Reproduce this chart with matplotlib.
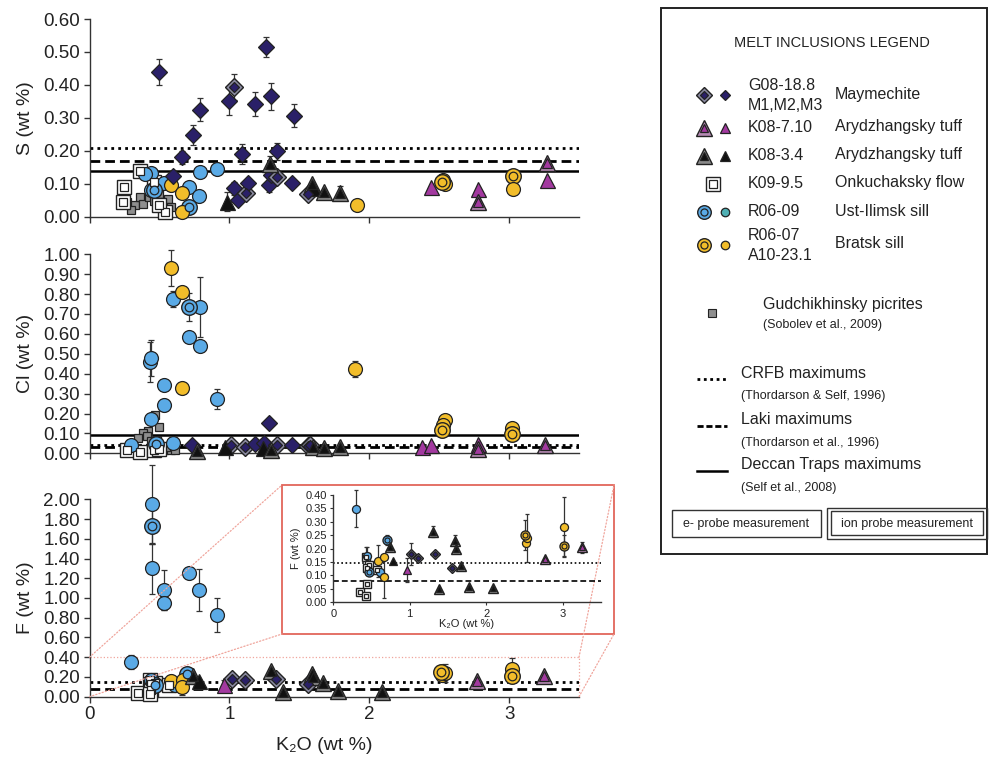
import matplotlib
matplotlib.use("Agg")
import matplotlib.pyplot as plt
from matplotlib.patches import Rectangle, ConnectionPatch
from matplotlib.ticker import FormatStrFormatter, MultipleLocator

plt.rcParams['font.family'] = ['Liberation Sans', 'DejaVu Sans']

# ---------------------------------------------------------------------------
# Melt-inclusion data: (K2O wt%, value wt%, 1-sigma error, ion-probe flag)
# ---------------------------------------------------------------------------
may_S = [(0.50, 0.44, 0.04, 0), (0.60, 0.124, 0, 0), (0.66, 0.18, 0.02, 0),
         (0.74, 0.248, 0.03, 0), (0.79, 0.324, 0.035, 0), (1.00, 0.35, 0.04, 0),
         (1.03, 0.393, 0.04, 1), (1.03, 0.086, 0.02, 0), (1.06, 0.05, 0, 0),
         (1.09, 0.19, 0.03, 0), (1.12, 0.073, 0, 1), (1.13, 0.103, 0, 0),
         (1.185, 0.342, 0.036, 0), (1.26, 0.514, 0.03, 0), (1.28, 0.096, 0.02, 0),
         (1.30, 0.365, 0.04, 0), (1.30, 0.127, 0, 0), (1.34, 0.122, 0, 1),
         (1.34, 0.198, 0.025, 0), (1.45, 0.103, 0, 0), (1.46, 0.306, 0.035, 0),
         (1.56, 0.069, 0, 1)]
may_Cl = [(0.73, 0.04, 0, 0), (1.015, 0.04, 0, 1), (1.11, 0.034, 0, 1),
          (1.18, 0.047, 0, 0), (1.25, 0.05, 0, 0), (1.285, 0.154, 0, 0),
          (1.34, 0.042, 0, 1), (1.45, 0.042, 0, 0), (1.56, 0.035, 0, 1),
          (1.58, 0.04, 0, 1)]
may_F = [(1.02, 0.18, 0.04, 1), (1.11, 0.166, 0, 1), (1.33, 0.18, 0, 1),
         (1.56, 0.127, 0, 1)]

mag_S = [(2.44, 0.091, 0, 0), (2.78, 0.083, 0, 0), (2.78, 0.046, 0, 1),
         (3.27, 0.162, 0, 1), (3.27, 0.112, 0, 0)]
mag_Cl = [(2.38, 0.03, 0, 0), (2.44, 0.042, 0, 0), (2.78, 0.045, 0, 0),
          (2.78, 0.02, 0, 1), (3.26, 0.042, 0, 1)]
mag_F = [(0.96, 0.12, 0.045, 0), (2.77, 0.16, 0, 1), (3.25, 0.205, 0.02, 1)]

blk_S = [(0.98, 0.046, 0.03, 0), (1.29, 0.16, 0.025, 1), (1.59, 0.10, 0, 1),
         (1.60, 0.088, 0, 0), (1.68, 0.076, 0, 1), (1.79, 0.073, 0.02, 1)]
blk_Cl = [(0.77, 0.01, 0, 1), (0.97, 0.034, 0, 0), (1.24, 0.025, 0, 0),
          (1.30, 0.017, 0, 1), (1.60, 0.03, 0, 1), (1.68, 0.025, 0, 1),
          (1.79, 0.03, 0, 1)]
blk_F = [(0.74, 0.207, 0, 1), (0.78, 0.155, 0, 0), (1.30, 0.263, 0.02, 1),
         (1.38, 0.05, 0, 1), (1.59, 0.23, 0.02, 1), (1.60, 0.20, 0, 1),
         (1.67, 0.135, 0, 1), (1.78, 0.058, 0, 1), (2.09, 0.052, 0, 1)]

sq_S = [(0.24, 0.046, 0, 1), (0.25, 0.091, 0, 1), (0.36, 0.140, 0.02, 1),
        (0.46, 0.106, 0, 1), (0.54, 0.015, 0, 1), (0.50, 0.035, 0, 1)]
sq_Cl = [(0.27, 0.017, 0, 1), (0.36, 0.008, 0, 1), (0.46, 0.017, 0, 1),
         (0.50, 0.02, 0, 1)]
sq_F = [(0.43, 0.168, 0.04, 1), (0.47, 0.139, 0, 1), (0.44, 0.127, 0, 1),
        (0.57, 0.12, 0, 1), (0.35, 0.04, 0, 1), (0.44, 0.068, 0, 1),
        (0.43, 0.024, 0, 1)]

gud_S = [(0.265, 0.046), (0.325, 0.035), (0.36, 0.061), (0.385, 0.038),
         (0.425, 0.059), (0.46, 0.049), (0.50, 0.068), (0.53, 0.044),
         (0.56, 0.054), (0.58, 0.028), (0.30, 0.020), (0.48, 0.030)]
gud_Cl = [(0.47, 0.19), (0.42, 0.11), (0.38, 0.10), (0.35, 0.075),
          (0.50, 0.13), (0.41, 0.087), (0.44, 0.06), (0.53, 0.017),
          (0.58, 0.017), (0.61, 0.017), (0.48, 0.067), (0.55, 0.03)]

blu_S = [(0.44, 0.132, 0, 0), (0.53, 0.103, 0, 0), (0.71, 0.089, 0, 0),
         (0.78, 0.063, 0, 0), (0.79, 0.137, 0, 0), (0.91, 0.144, 0, 0),
         (0.40, 0.13, 0, 0), (0.44, 0.08, 0, 0), (0.46, 0.081, 0, 1),
         (0.71, 0.03, 0, 1)]
blu_Cl = [(0.43, 0.46, 0.1, 0), (0.44, 0.48, 0.09, 0), (0.53, 0.343, 0, 0),
          (0.53, 0.243, 0.03, 0), (0.44, 0.17, 0, 0), (0.60, 0.776, 0.04, 0),
          (0.71, 0.586, 0, 0), (0.79, 0.734, 0.15, 0), (0.79, 0.54, 0, 0),
          (0.91, 0.271, 0.05, 0), (0.60, 0.05, 0, 0), (0.30, 0.04, 0, 0),
          (0.71, 0.734, 0.07, 1), (0.475, 0.047, 0, 1)]
blu_F = [(0.45, 1.95, 0.40, 0), (0.45, 1.30, 0.26, 0), (0.53, 1.08, 0.20, 0),
         (0.53, 0.95, 0.07, 0), (0.71, 1.25, 0.05, 0), (0.78, 1.08, 0.21, 0),
         (0.91, 0.83, 0.17, 0), (0.30, 0.349, 0.07, 0), (0.44, 0.173, 0.035, 0),
         (0.61, 0.114, 0, 0), (0.45, 1.73, 0.18, 1), (0.47, 0.114, 0, 1),
         (0.70, 0.232, 0.02, 1)]

yel_S = [(0.58, 0.096, 0, 0), (0.66, 0.073, 0, 0), (0.66, 0.015, 0, 0),
         (1.91, 0.035, 0, 0), (2.54, 0.10, 0, 0), (2.53, 0.11, 0, 0),
         (2.52, 0.106, 0, 1), (3.03, 0.124, 0, 1), (3.03, 0.083, 0, 0)]
yel_Cl = [(0.58, 0.93, 0.09, 0), (0.66, 0.812, 0, 0), (0.66, 0.327, 0, 0),
          (1.90, 0.422, 0.04, 0), (2.54, 0.167, 0, 0), (2.53, 0.142, 0, 0),
          (2.52, 0.117, 0, 1), (3.02, 0.125, 0, 0), (3.02, 0.097, 0, 1)]
yel_F = [(0.58, 0.155, 0.06, 0), (0.67, 0.168, 0, 0), (0.66, 0.096, 0.08, 0),
         (2.52, 0.22, 0, 0), (2.54, 0.24, 0.09, 0), (2.51, 0.25, 0.055, 1),
         (3.02, 0.282, 0.11, 0), (3.02, 0.21, 0.04, 1)]

# Reference maxima (CRFB, Laki, Deccan) per element
crfb_max = {'S': 0.21, 'Cl': 0.04, 'F': 0.145}
laki_max = {'S': 0.17, 'Cl': 0.03, 'F': 0.08}
deccan_max = {'S': 0.14, 'Cl': 0.09, 'F': None}

# ---------------------------------------------------------------------------
NAVY = '#2a2068'
MAGENTA = '#a2399f'
BLACK = '#111111'
BLUE = '#5aaae6'
YELLOW = '#f2bd2a'
GRAY = '#8e8e8e'
EDGE = '#222222'
TXT = '#222222'

groups = [
    # data per element, marker, colour, outer ring colour, size
    ({'S': gud_S, 'Cl': gud_Cl}, 's', GRAY, None, 0.55),
    ({'S': sq_S, 'Cl': sq_Cl, 'F': sq_F}, 's', 'white', 'white', 0.95),
    ({'S': blu_S, 'Cl': blu_Cl, 'F': blu_F}, 'o', BLUE, BLUE, 1.0),
    ({'S': yel_S, 'Cl': yel_Cl, 'F': yel_F}, 'o', YELLOW, YELLOW, 1.0),
    ({'S': may_S, 'Cl': may_Cl, 'F': may_F}, 'D', NAVY, '#8a8aa0', 0.8),
    ({'S': blk_S, 'Cl': blk_Cl, 'F': blk_F}, '^', BLACK, '#8a8a8a', 1.08),
    ({'S': mag_S, 'Cl': mag_Cl, 'F': mag_F}, '^', MAGENTA, '#b58ab3', 1.08),
]

W, H = 989, 759
fig = plt.figure(figsize=(W / 100, H / 100), dpi=100)


def px_axes(l, t, r, b, **kw):
    return fig.add_axes([l / W, 1 - b / H, (r - l) / W, (b - t) / H], **kw)


def draw_points(ax, pts, marker, color, outer, scale, base_ms):
    ms = base_ms * scale
    for p in pts:
        if len(p) == 2:
            x, y, e, ion = p[0], p[1], 0, 0
        else:
            x, y, e, ion = p
        if e:
            ax.errorbar([x], [y], yerr=[e], fmt='none', ecolor='#333333',
                        elinewidth=0.9, capsize=base_ms * 0.25, capthick=0.9,
                        zorder=3, clip_on=False)
        if ion and outer is not None:
            ax.plot([x], [y], ls='none', marker=marker, ms=ms * 1.12,
                    mfc=outer, mec=EDGE, mew=1.0, zorder=4, clip_on=False)
            ax.plot([x], [y], ls='none', marker=marker, ms=ms * 0.62,
                    mfc=color, mec=EDGE, mew=0.9, zorder=5, clip_on=False)
        else:
            ax.plot([x], [y], ls='none', marker=marker, ms=ms,
                    mfc=color, mec=EDGE, mew=0.9, zorder=4, clip_on=False)


def ref_lines(ax, key, lw_scale=1.0):
    if crfb_max[key] is not None:
        ax.axhline(crfb_max[key], color='black', lw=2.0 * lw_scale,
                   ls=(0, (1, 1.5)), zorder=2)
    if laki_max[key] is not None:
        ax.axhline(laki_max[key], color='black', lw=2.0 * lw_scale,
                   ls=(0, (3.5, 1.8)), zorder=2)
    if deccan_max[key] is not None:
        ax.axhline(deccan_max[key], color='black', lw=1.8 * lw_scale,
                   ls='-', zorder=2)


def style_axes(ax, ymax, step, fs, show_x):
    ax.set_xlim(0, 3.5)
    ax.set_ylim(0, ymax)
    ax.set_facecolor('none')
    for s in ('top', 'right'):
        ax.spines[s].set_visible(False)
    for s in ('left', 'bottom'):
        ax.spines[s].set_color('#333333')
        ax.spines[s].set_linewidth(1.0)
    ax.yaxis.set_major_locator(MultipleLocator(step))
    ax.yaxis.set_major_formatter(FormatStrFormatter('%.2f'))
    ax.set_xticks([0, 1, 2, 3])
    ax.tick_params(direction='out', length=4, width=1, color='#333333',
                   labelsize=fs, pad=3, labelcolor=TXT)
    if not show_x:
        ax.tick_params(axis='x', labelbottom=False)


ax_s = px_axes(89.5, 19, 579, 216.7)
ax_cl = px_axes(89.5, 254.3, 579, 453.3)
ax_f = px_axes(89.5, 499.3, 579, 696.7)

panels = [(ax_s, 'S', 0.6, 0.1, 'S (wt %)'),
          (ax_cl, 'Cl', 1.0, 0.1, 'Cl (wt %)'),
          (ax_f, 'F', 2.0, 0.2, 'F (wt %)')]

for ax, key, ymax, step, label in panels:
    style_axes(ax, ymax, step, 13.5, show_x=(key == 'F'))
    ref_lines(ax, key)
    for data, marker, color, outer, scale in groups:
        if key in data:
            draw_points(ax, data[key], marker, color, outer, scale, 10)
    ax.set_ylabel(label, fontsize=14, color=TXT)
    ax.yaxis.set_label_coords(-0.113, 0.5)

ax_f.set_xlabel('K₂O (wt %)', fontsize=14, color=TXT)
ax_f.xaxis.set_label_coords(0.48, -0.205)

# zoomed region on the F panel
zoom_col = '#f0a59c'
ax_f.plot([0, 3.5, 3.5], [0.4, 0.4, 0], color=zoom_col, lw=0.9, ls=':',
          zorder=1, clip_on=False)

# overlay in pixel coordinates for the inset frame and the legend
ov = fig.add_axes([0, 0, 1, 1], zorder=1)
ov.set_xlim(0, W)
ov.set_ylim(H, 0)
ov.axis('off')
ov.set_facecolor('none')

box_l, box_t, box_r, box_b = 282, 485, 614, 634
ov.add_patch(Rectangle((box_l, box_t), box_r - box_l, box_b - box_t,
                       facecolor='white', edgecolor='#e2665a', lw=1.3))
for (xa, ya), (xb, yb) in [((0, 0.4), (box_l, box_t)), ((0, 0), (box_l, box_b)),
                           ((3.5, 0.4), (box_r, box_t)), ((3.5, 0), (box_r, box_b))]:
    con = ConnectionPatch(xyA=(xa, ya), coordsA=ax_f.transData,
                          xyB=(xb, yb), coordsB=ov.transData,
                          color=zoom_col, lw=0.9, ls=':')
    ov.add_artist(con)

# inset: F at low concentrations
ax_in = px_axes(333.3, 495, 600.7, 602.3, zorder=2)
style_axes(ax_in, 0.4, 0.05, 8, show_x=True)
ax_in.tick_params(length=2.5, width=0.8, pad=2)
ax_in.set_ylim(0, 0.4)
ref_lines(ax_in, 'F', lw_scale=0.6)
for data, marker, color, outer, scale in groups:
    if 'F' in data:
        pts = [p for p in data['F'] if p[1] <= 0.4]
        draw_points(ax_in, pts, marker, color, outer, scale, 5.8)
ax_in.set_ylabel('F (wt %)', fontsize=8, color=TXT, labelpad=3)
ax_in.set_xlabel('K₂O (wt %)', fontsize=8, color=TXT, labelpad=0)

# ---------------------------------------------------------------------------
# Legend panel
# ---------------------------------------------------------------------------
ov.add_patch(Rectangle((661, 8), 987 - 661, 554 - 8, facecolor='white',
                       edgecolor=TXT, lw=1.4))
ov.text(832, 43, 'MELT INCLUSIONS LEGEND', ha='center', va='center',
        fontsize=10.5, color=TXT)


def leg_marker(x, y, marker, color, outer, ms, ion):
    if ion:
        ov.plot([x], [y], ls='none', marker=marker, ms=ms * 1.15, mfc=outer,
                mec=EDGE, mew=1.0)
        ov.plot([x], [y], ls='none', marker=marker, ms=ms * 0.6, mfc=color,
                mec=EDGE, mew=0.9)
    else:
        ov.plot([x], [y], ls='none', marker=marker, ms=ms, mfc=color,
                mec=EDGE, mew=0.9)


LEG_FS = 11.5
leg_rows = [
    (95, 'D', NAVY, '#8a8aa0', 7.5, True, ['G08-18.8', 'M1,M2,M3'], 'Maymechite'),
    (128, '^', MAGENTA, '#b58ab3', 9.5, True, ['K08-7.10'], 'Arydzhangsky tuff'),
    (156, '^', BLACK, '#8a8a8a', 9.5, True, ['K08-3.4'], 'Arydzhangsky tuff'),
    (184, 's', 'white', 'white', 8.5, None, ['K09-9.5'], 'Onkuchaksky flow'),
    (212, 'o', BLUE, BLUE, 8.5, True, ['R06-09'], 'Ust-Ilimsk sill'),
    (245, 'o', YELLOW, YELLOW, 8.5, True, ['R06-07', 'A10-23.1'], 'Bratsk sill'),
]
for y, mk, col, outer, ms, pair, codes, name in leg_rows:
    if pair is None:
        leg_marker(713, y, mk, col, outer, ms, True)
    else:
        leg_marker(704, y, mk, col, outer, ms, True)
        e_col = '#4fb0b4' if col == BLUE else col
        leg_marker(725, y, mk, e_col, outer, ms * 0.72, False)
    if len(codes) == 1:
        ov.text(748, y, codes[0], ha='left', va='center', fontsize=LEG_FS,
                color=TXT)
    else:
        ov.text(748, y - 9, codes[0], ha='left', va='center', fontsize=LEG_FS,
                color=TXT)
        ov.text(748, y + 11, codes[1], ha='left', va='center', fontsize=LEG_FS,
                color=TXT)
    ov.text(835, y - 1, name, ha='left', va='center', fontsize=LEG_FS,
            color=TXT)

ov.plot([712], [313], ls='none', marker='s', ms=5.5, mfc=GRAY, mec=EDGE, mew=0.8)
ov.text(763, 305, 'Gudchikhinsky picrites', ha='left', va='center',
        fontsize=LEG_FS, color=TXT)
ov.text(763, 325, '(Sobolev et al., 2009)', ha='left', va='center',
        fontsize=9, color=TXT)

ref_rows = [
    (379, (0, (1, 1.3)), 2.0, 'CRFB maximums', '(Thordarson & Self, 1996)'),
    (426, (0, (2.2, 1.0)), 2.0, 'Laki maximums', '(Thordarson et al., 1996)'),
    (471, '-', 1.8, 'Deccan Traps maximums', '(Self et al., 2008)'),
]
for y, ls, lw, title, ref in ref_rows:
    ov.plot([697, 727], [y, y], color='black', lw=lw, ls=ls)
    ov.text(741, y - 6, title, ha='left', va='center', fontsize=LEG_FS,
            color=TXT)
    ov.text(741, y + 17, ref, ha='left', va='center', fontsize=9,
            color=TXT)

ov.add_patch(Rectangle((672, 510), 821 - 672, 537 - 510, facecolor='none',
                       edgecolor='#333333', lw=1.0))
ov.text(746.5, 523.5, 'e- probe measurement', ha='center', va='center',
        fontsize=9, color=TXT)
ov.add_patch(Rectangle((827, 507.5), 987 - 827, 538.5 - 507.5, facecolor='none',
                       edgecolor='#333333', lw=1.0))
ov.add_patch(Rectangle((831, 511), 983 - 831, 535 - 511, facecolor='none',
                       edgecolor='#333333', lw=1.0))
ov.text(907, 523.5, 'ion probe measurement', ha='center', va='center',
        fontsize=9, color=TXT)

fig.savefig('out.png', dpi=100, facecolor='white')
